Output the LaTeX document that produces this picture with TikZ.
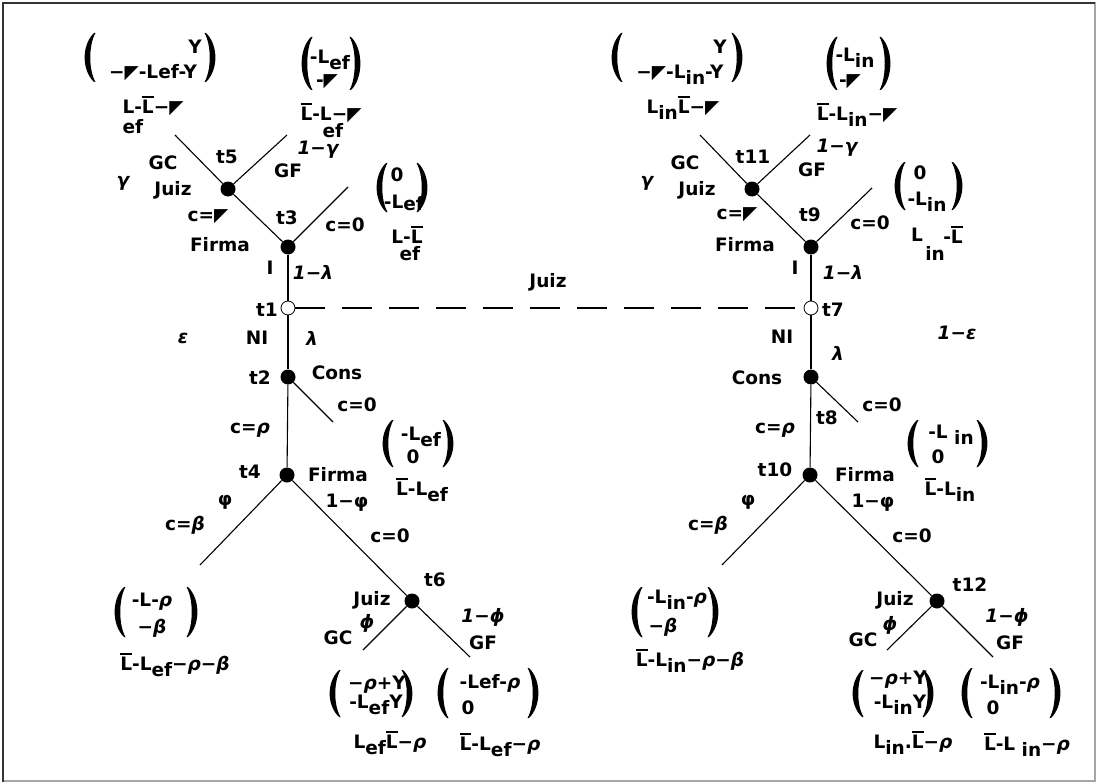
\documentclass[tikz,border=0pt]{standalone}
\usepackage{fontspec}
\setmainfont{DejaVu Sans}[BoldFont={DejaVu Sans Bold},ItalicFont={DejaVu Sans Oblique},BoldItalicFont={DejaVu Sans Bold Oblique}]
\newcommand\mysub[1]{\raisebox{-0.32em}{#1}}
\newcommand\ovl[1]{\vbox{\hrule height 1.3pt\kern 2.5pt\hbox{#1}}}
\newcommand\tri{{\mdseries ◤}}
\newcommand\gk[1]{{\itshape #1}}
\newcommand\myparL[3]{\fill (#1+9,#2) .. controls (#1-3.5,#2+12) and (#1-3.5,#3-12) .. (#1+9,#3) -- (#1+10.5,#3) .. controls (#1+3.5,#3-12) and (#1+3.5,#2+12) .. (#1+10.5,#2) -- cycle;}
\newcommand\myparR[3]{\fill (#1-9,#2) .. controls (#1+3.5,#2+12) and (#1+3.5,#3-12) .. (#1-9,#3) -- (#1-10.5,#3) .. controls (#1-3.5,#3-12) and (#1-3.5,#2+12) .. (#1-10.5,#2) -- cycle;}
\begin{document}
\begin{tikzpicture}[x=1pt,y=-1pt,
  every node/.style={font=\fontsize{18.5}{20}\selectfont\bfseries, inner sep=0pt},
  dot/.style={circle, fill=black, minimum size=15pt, inner sep=0pt},
  odot/.style={circle, draw=black, fill=white, minimum size=14pt, line width=0.8pt, inner sep=0pt},
  edge/.style={line width=1.1pt},
  dline/.style={line width=1.1pt, dash pattern=on 30pt off 17pt}]
\useasboundingbox (0,0) rectangle (1098,784);
\draw[gray!70, line width=2pt] (3,3) rectangle (1095,781);
\draw[gray!40!black, line width=2pt] (3,782) -- (3,3) -- (1095,3);

% ---------- left tree ----------
\node[dot] (t5) at (228,189) {};
\node[dot] (t3) at (288,247) {};
\node[odot] (t1) at (288,308) {};
\node[dot] (t2) at (288,377) {};
\node[dot] (t4) at (287,475) {};
\node[dot] (t6) at (412,601) {};
\coordinate (a5) at (175,135);
\coordinate (b5) at (287,135);
\coordinate (a3) at (348,187);
\coordinate (a2) at (333,422);
\coordinate (a4) at (200,565);
\coordinate (a6) at (363,650);
\coordinate (b6) at (470,657);
\draw[edge] (a5) -- (t5);
\draw[edge] (b5) -- (t5);
\draw[edge] (t5) -- (t3);
\draw[edge] (t3) -- (a3);
\draw[edge] (t3) -- (t1);
\draw[edge] (t1) -- (t2);
\draw[edge] (t2) -- (a2);
\draw[edge] (t2) -- (t4);
\draw[edge] (t4) -- (a4);
\draw[edge] (t4) -- (t6);
\draw[edge] (t6) -- (a6);
\draw[edge] (t6) -- (b6);

% ---------- right tree ----------
\node[dot] (t11) at (752,189) {};
\node[dot] (t9) at (811,247) {};
\node[odot] (t7) at (811,308) {};
\node[dot] (t8) at (811,377) {};
\node[dot] (t10) at (810,475) {};
\node[dot] (t12) at (937,601) {};
\coordinate (a11) at (700,135);
\coordinate (b11) at (810,135);
\coordinate (a9) at (872,188);
\coordinate (a8) at (858,422);
\coordinate (a10) at (722,565);
\coordinate (a12) at (887,650);
\coordinate (b12) at (993,657);
\draw[edge] (a11) -- (t11);
\draw[edge] (b11) -- (t11);
\draw[edge] (t11) -- (t9);
\draw[edge] (t9) -- (a9);
\draw[edge] (t9) -- (t7);
\draw[edge] (t7) -- (t8);
\draw[edge] (t8) -- (a8);
\draw[edge] (t8) -- (t10);
\draw[edge] (t10) -- (a10);
\draw[edge] (t10) -- (t12);
\draw[edge] (t12) -- (a12);
\draw[edge] (t12) -- (b12);

\draw[dline] (t1) -- (t7);
\node (juiz) at (548,282) {Juiz};

% ---------- left labels ----------
\node (lGC5) at (163,163) {GC};
\node (lt5) at (227,157) {t5};
\node (lg5) at (123,183) {\gk{γ}};
\node (lJ5) at (173,190) {Juiz};
\node (lGF5) at (288,171) {GF};
\node (l1g) at (318,150) {\gk{1−γ}};
\node (lc3) at (208,217) {c=\tri};
\node (lt3) at (287,218) {t3};
\node (lF3) at (220,245) {Firma};
\node (lc03) at (345,225) {c=0};
\node (lI) at (270,268) {I};
\node (l1l) at (313,272) {\gk{1−λ}};
\node (lt1) at (267,310) {t1};
\node (leps) at (183,338) {\gk{ε}};
\node (lNI) at (257,338) {NI};
\node (llam) at (312,338) {\gk{λ}};
\node (lt2) at (260,378) {t2};
\node (lCons) at (337,373) {Cons};
\node (lc02) at (357,405) {c=0};
\node (lcr) at (250,430) {c=\gk{ρ}};
\node (lt4) at (250,472) {t4};
\node (lF4) at (338,475) {Firma};
\node (lphi) at (225,502) {φ};
\node (l1phi) at (347,503) {1−φ};
\node (lcb) at (185,525) {c=\gk{β}};
\node (lc04) at (390,536) {c=0};
\node (lt6) at (435,580) {t6};
\node (lJ6) at (372,600) {Juiz};
\node (lvp) at (367,623) {\gk{ϕ}};
\node (lGC6) at (338,638) {GC};
\node (l1vp) at (483,617) {\gk{1−ϕ}};
\node (lGF6) at (483,643) {GF};

% ---------- left payoffs ----------
\myparL{85}{33}{82} \myparR{215}{33}{82}
\node (pA1) at (195,47) {Y};
\node (pA2) at (153,73) {−\tri-Lef-Y};
\node (pA3) at (153,106) {L-\ovl{L}−\tri};
\node (pA4) at (133,127) {ef};

\myparL{302}{37}{90} \myparR{360}{37}{90}
\node (pB1) at (330,60) {-L\mysub{ef}};
\node (pB2) at (327,82) {-\tri};
\node (pB3) at (331,113) {\ovl{L}-L−\tri};
\node (pB4) at (333,131) {ef};

\myparL{377}{163}{212} \myparR{427}{163}{212}
\node (pC1) at (397,175) {0};
\node (pC2) at (404,203) {-L\raisebox{-2pt}{ef}};
\node (pC3) at (407,235) {L-\ovl{L}};
\node (pC4) at (410,254) {ef};

\myparL{383}{420}{467} \myparR{453}{420}{467}
\node (pD1) at (421,437) {-L\mysub{ef}};
\node (pD2) at (413,457) {0};
\node (pD3) at (422,490) {\ovl{L}-L\mysub{ef}};

\myparL{115}{587}{637} \myparR{197}{587}{637}
\node (pE1) at (152,602) {-L-\gk{ρ}};
\node (pE2) at (152,628) {−\gk{β}};
\node (pE3) at (175,665) {\ovl{L}-L\mysub{ef}−\gk{ρ}−\gk{β}};

\myparL{330}{670}{717} \myparR{412}{670}{717}
\node (pF1) at (377,685) {−\gk{ρ}+Y};
\node (pF2) at (376,705) {-L\mysub{ef}Y};
\node (pF3) at (390,743) {L\mysub{ef}\ovl{L}−\gk{ρ}};

\myparL{438}{668}{718} \myparR{538}{668}{718}
\node (pG1) at (490,683) {-Lef-\gk{ρ}};
\node (pG2) at (468,708) {0};
\node (pG3) at (500,745) {\ovl{L}-L\mysub{ef}−\gk{ρ}};

% ---------- right labels ----------
\node (rGC11) at (685,163) {GC};
\node (rt11) at (753,157) {t11};
\node (rg11) at (647,183) {\gk{γ}};
\node (rJ11) at (697,190) {Juiz};
\node (rGF11) at (812,170) {GF};
\node (r1g) at (837,148) {\gk{1−γ}};
\node (rc9) at (737,215) {c=\tri};
\node (rt9) at (810,215) {t9};
\node (rF9) at (745,245) {Firma};
\node (rc09) at (870,223) {c=0};
\node (rI) at (795,268) {I};
\node (r1l) at (843,272) {\gk{1−λ}};
\node (rt7) at (833,310) {t7};
\node (r1e) at (957,333) {\gk{1−ε}};
\node (rNI) at (782,337) {NI};
\node (rlam) at (838,353) {\gk{λ}};
\node (rCons) at (757,378) {Cons};
\node (rc08) at (882,405) {c=0};
\node (rt8) at (827,418) {t8};
\node (rcr) at (775,430) {c=\gk{ρ}};
\node (rt10) at (775,470) {t10};
\node (rF10) at (865,475) {Firma};
\node (rphi) at (748,502) {φ};
\node (r1phi) at (873,503) {1−φ};
\node (rcb) at (708,525) {c=\gk{β}};
\node (rc010) at (912,536) {c=0};
\node (rt12) at (970,585) {t12};
\node (rJ12) at (895,600) {Juiz};
\node (rvp) at (890,625) {\gk{ϕ}};
\node (rGC12) at (863,640) {GC};
\node (r1vp) at (1007,617) {\gk{1−ϕ}};
\node (rGF12) at (1010,643) {GF};

% ---------- right payoffs ----------
\myparL{612}{33}{82} \myparR{742}{33}{82}
\node (qA1) at (720,47) {Y};
\node (qA2) at (680,75) {−\tri-L\mysub{in}-Y};
\node (qA3) at (683,108) {L\mysub{in}\ovl{L}−\tri};

\myparL{827}{37}{90} \myparR{890}{37}{90}
\node (qB1) at (855,58) {-L\mysub{in}};
\node (qB2) at (850,82) {-\tri};
\node (qB3) at (857,115) {\ovl{L}-L\mysub{in}−\tri};

\myparL{895}{162}{210} \myparR{962}{162}{210}
\node (qC1) at (920,173) {0};
\node (qC2) at (927,202) {-L\mysub{in}};
\node (qC3) at (917,235) {L};
\node (qC4) at (953,235) {-\ovl{L}};
\node (qC5) at (935,253) {in};

\myparL{908}{420}{467} \myparR{987}{420}{467}
\node (qD1) at (951,435) {-L \mysub{in}};
\node (qD2) at (938,457) {0};
\node (qD3) at (950,490) {\ovl{L}-L\mysub{in}};

\myparL{632}{587}{637} \myparR{718}{587}{637}
\node (qE1) at (677,600) {-L\mysub{in}-\gk{ρ}};
\node (qE2) at (663,627) {−\gk{β}};
\node (qE3) at (690,661) {\ovl{L}-L\mysub{in}−\gk{ρ}−\gk{β}};

\myparL{853}{670}{717} \myparR{933}{670}{717}
\node (qF1) at (898,680) {−\gk{ρ}+Y};
\node (qF2) at (900,705) {-L\mysub{in}Y};
\node (qF3) at (913,743) {L\mysub{in}.\ovl{L}−\gk{ρ}};

\myparL{962}{668}{718} \myparR{1060}{668}{718}
\node (qG1) at (1010,685) {-L\mysub{in}-\gk{ρ}};
\node (qG2) at (993,708) {0};
\node (qG3) at (1027,745) {\ovl{L}-L \mysub{in}−\gk{ρ}};
\end{tikzpicture}
\end{document}
